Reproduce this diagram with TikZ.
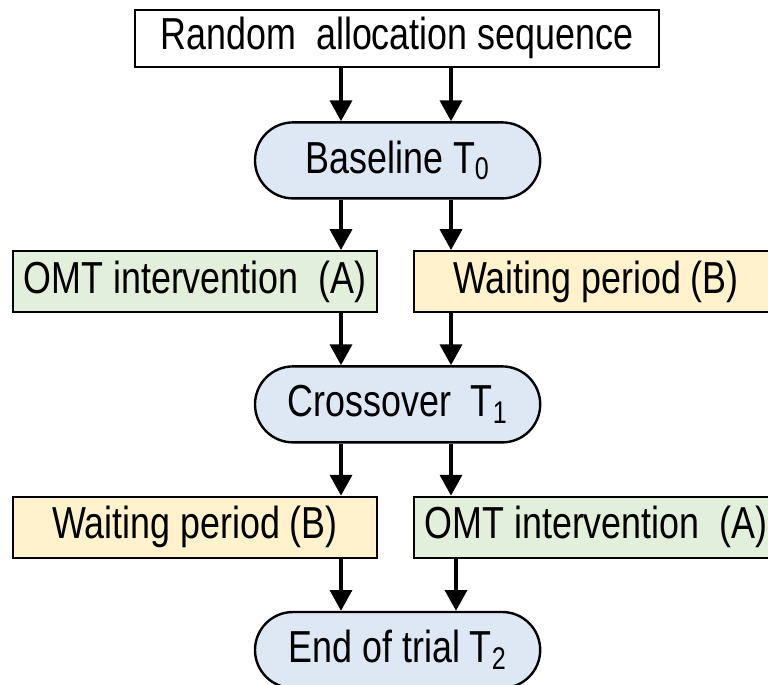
\documentclass[tikz,border=0pt]{standalone}
\usepackage{fontspec}
\setmainfont{Liberation Sans}
\usepackage{xcolor}
\usepackage{tikz}
\usetikzlibrary{arrows.meta, positioning, shapes.misc}
\definecolor{bluefill}{HTML}{DEE8F4}
\definecolor{greenfill}{HTML}{E2EFDA}
\definecolor{amberfill}{HTML}{FFF2CC}
\newcommand{\boxw}{9.1cm}
\newcommand{\boxh}{1.53cm}
\newcommand{\tall}[1]{\scalebox{1}[1.25]{#1}}
\tikzset{
    txt/.style={font=\fontsize{25.5}{30}\selectfont, inner sep=0pt, align=center},
    topbox/.style={txt, rectangle, draw=black, fill=white, line width=1.4pt,
    minimum width=13.1cm, minimum height=1.43cm},
    timept/.style={txt, rounded rectangle, draw=black, fill=bluefill, line width=1.7pt,
    minimum width=7.13cm, minimum height=1.9cm},
    omtbox/.style={txt, rectangle, draw=black, fill=greenfill, line width=1.4pt,
    minimum width=\boxw, minimum height=\boxh},
    waitbox/.style={txt, rectangle, draw=black, fill=amberfill, line width=1.4pt,
    minimum width=\boxw, minimum height=\boxh},
    arrbig/.style={-{Triangle[length=0.52cm, width=0.55cm]}, line width=2.5pt},
}

\begin{document}
\begin{tikzpicture}[y=1cm, x=1cm]

        \useasboundingbox (0,0) rectangle (19.2,-17.125);

        \def\colA{4.875}
        \def\colB{14.9}

% =========================================================
% time points and phases
% =========================================================

        \node[topbox] (alloc) at (9.925,-0.96) {\tall{Random\ \ allocation sequence}};

        \node[timept] (t0) at (9.94,-4.01) {\tall{Baseline T\textsubscript{0}}};

        \node[omtbox]  (omt1)  at (\colA,-7.04) {\tall{OMT intervention\ \ (A)}};
        \node[waitbox] (wait1) at (\colB,-7.04) {\tall{Waiting period (B)}};

        \node[timept] (t1) at (9.94,-10.11) {\tall{Crossover\ \ T\textsubscript{1}}};

        \node[waitbox] (wait2) at (\colA,-13.18) {\tall{Waiting period (B)}};
        \node[omtbox]  (omt2)  at (\colB,-13.18) {\tall{OMT intervention\ \ (A)}};

        \node[timept] (t2) at (9.94,-16.25) {\tall{End of trial T\textsubscript{2}}};

% arrow columns
        \coordinate (cL)  at (8.525,0);
        \coordinate (cR)  at (11.275,0);
        \coordinate (cR2) at (11.4,0);

        \draw[arrbig] (alloc.south -| cL) -- (t0.north -| cL);
        \draw[arrbig] (alloc.south -| cR) -- (t0.north -| cR);

        \draw[arrbig] (t0.south -| cL) -- (omt1.north -| cL);
        \draw[arrbig] (t0.south -| cR) -- (wait1.north -| cR);

        \draw[arrbig] (omt1.south -| cL)  -- (t1.north -| cL);
        \draw[arrbig] (wait1.south -| cR) -- (t1.north -| cR);

        \draw[arrbig] (t1.south -| cL) -- (wait2.north -| cL);
        \draw[arrbig] (t1.south -| cR) -- (omt2.north -| cR);

        \draw[arrbig] (wait2.south -| cL) -- (t2.north -| cL);
        \draw[arrbig] (omt2.south -| cR2) -- (t2.north -| cR2);

\end{tikzpicture}
\end{document}
